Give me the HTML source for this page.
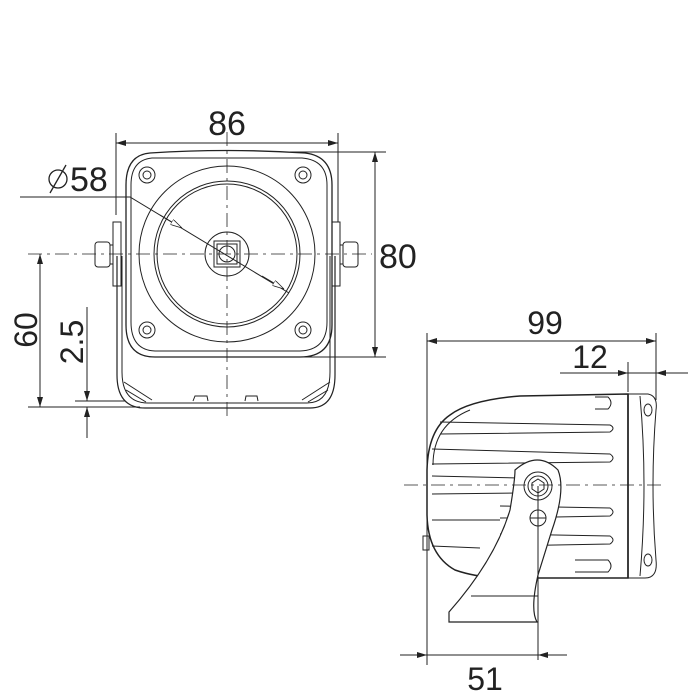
<!DOCTYPE html>
<html><head><meta charset="utf-8"><style>
html,body{margin:0;padding:0;background:#fff}
svg{display:block}
text{font-family:"Liberation Sans",Arial,sans-serif;fill:#222}
</style></head><body>
<svg width="700" height="700" viewBox="0 0 700 700" xmlns="http://www.w3.org/2000/svg">
<defs>
<marker id="a" viewBox="0 0 10 6" refX="10" refY="3" markerWidth="10" markerHeight="6" orient="auto-start-reverse" markerUnits="userSpaceOnUse">
<path d="M0,0 L10,3 L0,6 Z" fill="#222"/></marker>
<marker id="o" viewBox="0 0 12 6" refX="12" refY="3" markerWidth="12" markerHeight="6" orient="auto" markerUnits="userSpaceOnUse">
<path d="M0,0 L12,3 L0,6 Z" fill="#fff" stroke="#222" stroke-width="0.8"/></marker>
</defs>
<g stroke="#222" fill="none" stroke-width="1">
<line x1="116" y1="133" x2="116" y2="215"/>
<line x1="338" y1="133" x2="338" y2="222"/>
<line x1="116" y1="143" x2="338" y2="143" marker-start="url(#a)" marker-end="url(#a)"/>
<line x1="290" y1="152" x2="386" y2="152"/>
<line x1="290" y1="357" x2="386" y2="357"/>
<line x1="375" y1="152" x2="375" y2="357" marker-start="url(#a)" marker-end="url(#a)"/>
<path d="M117,256 L117,375 Q117,408 145,408 L310,408 Q335,408 335,375 L335,256" stroke-width="1.2"/>
<path d="M122,256 L122,372 Q122,403 148,403 L307,403 Q330,403 330,372 L330,256"/>
<path d="M124,382 L152,400 M126,390 L146,402 M330,382 L302,400 M328,390 L308,402"/>
<path d="M193,401 L195,396 L207,396 L208,401 M245,401 L246,396 L257,396 L258,401"/>
<rect x="113" y="222" width="8" height="64"/>
<rect x="332" y="222" width="8" height="64"/>
<rect x="95" y="242" width="15" height="25" rx="3"/>
<rect x="343" y="242" width="15" height="25" rx="3"/>
<line x1="110" y1="245" x2="113" y2="245"/><line x1="110" y1="264" x2="113" y2="264"/>
<line x1="340" y1="245" x2="343" y2="245"/><line x1="340" y1="264" x2="343" y2="264"/>
<path d="M150,153 Q227,148 305,153 Q332,156 332,185 L332,325 Q332,357 300,357 L155,357 Q126,357 126,325 L126,185 Q126,155 150,153 Z" stroke-width="1.3"/>
<path d="M152,158 L302,158 Q327,160 327,185 L327,322 Q327,350 300,351 L155,351 Q131,350 131,322 L131,185 Q131,160 152,158 Z"/>
<circle cx="227" cy="254" r="88"/>
<circle cx="227" cy="254" r="73"/>
<circle cx="227" cy="254" r="70"/>
<circle cx="227" cy="254" r="22"/>
<rect x="214" y="241" width="26" height="26"/>
<rect x="217" y="244" width="20" height="20"/>
<circle cx="227" cy="254" r="8"/>
<g>
<circle cx="147" cy="175" r="8"/><circle cx="147" cy="175" r="4"/>
<circle cx="303" cy="175" r="8"/><circle cx="303" cy="175" r="4"/>
<circle cx="147" cy="330" r="8"/><circle cx="147" cy="330" r="4"/>
<circle cx="303" cy="330" r="8"/><circle cx="303" cy="330" r="4"/>
</g>
<line x1="28" y1="254" x2="372" y2="254" stroke-dasharray="14,5,3,5" stroke-width="0.8"/>
<line x1="227" y1="132" x2="227" y2="420" stroke-dasharray="14,5,3,5" stroke-width="0.8"/>
<path d="M20,197 L130,197 L289,293"/>
<line x1="160" y1="215" x2="182" y2="228" marker-end="url(#o)"/>
<line x1="262" y1="276" x2="284" y2="289" marker-end="url(#o)"/>
<circle cx="58" cy="179" r="9" stroke-width="1.3"/>
<line x1="50" y1="193" x2="66" y2="165" stroke-width="1.3"/>
<line x1="28" y1="407" x2="140" y2="407"/>
<line x1="75" y1="401" x2="125" y2="401"/>
<line x1="40" y1="254" x2="40" y2="407" marker-start="url(#a)" marker-end="url(#a)"/>
<line x1="87" y1="307" x2="87" y2="401" marker-end="url(#a)"/>
<line x1="87" y1="438" x2="87" y2="407" marker-end="url(#a)"/>

<line x1="427" y1="333" x2="427" y2="665"/>
<line x1="656" y1="333" x2="656" y2="400"/>
<line x1="628" y1="362" x2="628" y2="392"/>
<line x1="427" y1="341" x2="656" y2="341" marker-start="url(#a)" marker-end="url(#a)"/>
<line x1="560" y1="373" x2="688" y2="373"/>
<line x1="600" y1="373" x2="628" y2="373" marker-end="url(#a)"/>
<line x1="688" y1="373" x2="656" y2="373" marker-end="url(#a)"/>
<line x1="400" y1="655" x2="567" y2="655"/>
<line x1="400" y1="655" x2="427" y2="655" marker-end="url(#a)"/>
<line x1="567" y1="655" x2="538" y2="655" marker-end="url(#a)"/>
<path d="M628,394 L520,396 Q470,400 450,415 Q428,430 427,470 L427,515 Q428,555 455,570 Q475,577 500,578 L628,578 Z" stroke-width="1.5"/>
<path d="M628,394 L648,394 Q658,396 656,410 Q650,485 656,560 Q658,578 645,578 L628,578"/>
<path d="M640,396 Q648,485 640,576"/>
<ellipse cx="648" cy="410" rx="4" ry="6"/>
<ellipse cx="648" cy="560" rx="4" ry="6"/>
<line x1="628" y1="394" x2="628" y2="578" stroke-width="1.5"/>
<path d="M433,465 Q433,425 470,410"/>
<path d="M595,397 L608,397 Q614,403 608,409 L595,409"/>
<path d="M440,422 L610,425 Q616,428 610,432 L440,434"/>
<path d="M432,449 L610,454 Q616,458 610,462 L432,464"/>
<path d="M432,476 L520,478 M432,494 L520,493"/>
<path d="M500,506 L610,508 Q616,512 610,516 L500,518"/>
<path d="M432,520 L500,520 M432,546 L480,548"/>
<path d="M500,534 L610,536 Q616,540 610,544 L500,546"/>
<path d="M575,560 L608,560 Q614,566 608,572 L575,572"/>
<rect x="423" y="536" width="6" height="14"/>
<path d="M515,470 Q538,450 558,470 Q566,490 552,530 L538,575 Q530,610 537,622 L449,622 L449,612 Q495,560 510,510 Q515,480 515,470 Z" fill="#fff" stroke-width="1.2"/>
<line x1="471" y1="596" x2="538" y2="596"/>
<circle cx="538" cy="486" r="14"/>
<circle cx="538" cy="486" r="10"/>
<path d="M538,479 L544,483 L544,489 L538,493 L532,489 L532,483 Z"/>
<circle cx="538" cy="518" r="8"/>
<line x1="530" y1="518" x2="546" y2="518"/>
<line x1="404" y1="485" x2="665" y2="485" stroke-dasharray="14,5,3,5" stroke-width="0.8"/>
<line x1="538" y1="486" x2="538" y2="660"/>
</g>
<text x="227" y="135" font-size="34" text-anchor="middle">86</text>
<text x="70" y="191" font-size="34">58</text>
<text x="379" y="268" font-size="34">80</text>
<text x="545" y="334" font-size="32" text-anchor="middle">99</text>
<text x="590" y="368" font-size="32" text-anchor="middle">12</text>
<text x="485" y="690" font-size="32" text-anchor="middle">51</text>
<text transform="translate(37,330) rotate(-90)" font-size="32" text-anchor="middle">60</text>
<text transform="translate(83,342) rotate(-90)" font-size="32" text-anchor="middle">2.5</text>
</svg>
</body></html>
